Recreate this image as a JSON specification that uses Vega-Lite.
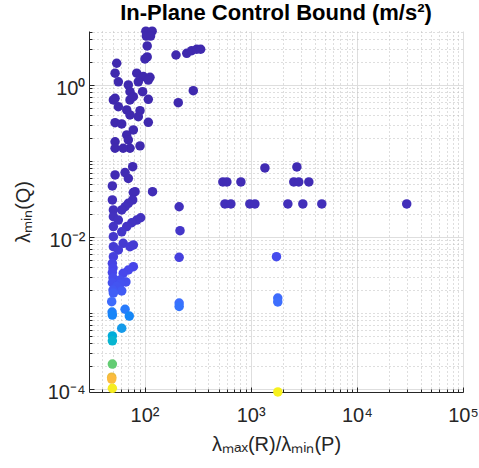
{
  "$schema": "https://vega.github.io/schema/vega-lite/v6.json",
  "width": 374,
  "height": 361,
  "autosize": "none",
  "padding": {"left": 89, "top": 31, "right": 16, "bottom": 76},
  "title": {"text": "In-Plane Control Bound (m/s²)", "fontSize": 22, "fontWeight": "bold", "font": "Liberation Sans", "color": "#000000", "anchor": "middle", "offset": 1},
  "data": {"values": [
    {"ratio": 103, "lamQ": 5.1, "bound": 0.01},
    {"ratio": 118, "lamQ": 5.1, "bound": 0.01},
    {"ratio": 104, "lamQ": 4.4, "bound": 0.01},
    {"ratio": 114, "lamQ": 4.4, "bound": 0.01},
    {"ratio": 106, "lamQ": 3.26, "bound": 0.01},
    {"ratio": 106, "lamQ": 2.34, "bound": 0.01},
    {"ratio": 101, "lamQ": 2.2, "bound": 0.01},
    {"ratio": 198, "lamQ": 2.48, "bound": 0.01},
    {"ratio": 250, "lamQ": 2.61, "bound": 0.01},
    {"ratio": 278, "lamQ": 2.83, "bound": 0.01},
    {"ratio": 310, "lamQ": 2.95, "bound": 0.01},
    {"ratio": 338, "lamQ": 2.95, "bound": 0.01},
    {"ratio": 288, "lamQ": 0.84, "bound": 0.01},
    {"ratio": 54.7, "lamQ": 1.93, "bound": 0.01},
    {"ratio": 52.8, "lamQ": 1.43, "bound": 0.01},
    {"ratio": 84.5, "lamQ": 1.43, "bound": 0.01},
    {"ratio": 56.7, "lamQ": 1.1, "bound": 0.01},
    {"ratio": 97.5, "lamQ": 1.29, "bound": 0.01},
    {"ratio": 112.6, "lamQ": 1.26, "bound": 0.01},
    {"ratio": 108.6, "lamQ": 1.16, "bound": 0.01},
    {"ratio": 87.4, "lamQ": 1.1, "bound": 0.01},
    {"ratio": 70.4, "lamQ": 1.0, "bound": 0.01},
    {"ratio": 73, "lamQ": 0.817, "bound": 0.01},
    {"ratio": 96, "lamQ": 0.817, "bound": 0.01},
    {"ratio": 208, "lamQ": 0.585, "bound": 0.01},
    {"ratio": 52.8, "lamQ": 0.668, "bound": 0.01},
    {"ratio": 50.9, "lamQ": 0.635, "bound": 0.01},
    {"ratio": 73, "lamQ": 0.635, "bound": 0.01},
    {"ratio": 78.5, "lamQ": 0.702, "bound": 0.01},
    {"ratio": 108.6, "lamQ": 0.648, "bound": 0.01},
    {"ratio": 56.7, "lamQ": 0.518, "bound": 0.01},
    {"ratio": 68, "lamQ": 0.469, "bound": 0.01},
    {"ratio": 90.7, "lamQ": 0.459, "bound": 0.01},
    {"ratio": 73, "lamQ": 0.403, "bound": 0.01},
    {"ratio": 87.4, "lamQ": 0.383, "bound": 0.01},
    {"ratio": 52.8, "lamQ": 0.319, "bound": 0.01},
    {"ratio": 61, "lamQ": 0.307, "bound": 0.01},
    {"ratio": 108.6, "lamQ": 0.323, "bound": 0.01},
    {"ratio": 78.5, "lamQ": 0.256, "bound": 0.01},
    {"ratio": 68, "lamQ": 0.22, "bound": 0.01},
    {"ratio": 70.4, "lamQ": 0.189, "bound": 0.01},
    {"ratio": 52.8, "lamQ": 0.179, "bound": 0.01},
    {"ratio": 52.8, "lamQ": 0.147, "bound": 0.01},
    {"ratio": 90.7, "lamQ": 0.158, "bound": 0.01},
    {"ratio": 73, "lamQ": 0.147, "bound": 0.01},
    {"ratio": 63, "lamQ": 0.147, "bound": 0.01},
    {"ratio": 77.4, "lamQ": 0.0841, "bound": 0.017},
    {"ratio": 52.8, "lamQ": 0.0655, "bound": 0.017},
    {"ratio": 65.6, "lamQ": 0.0703, "bound": 0.017},
    {"ratio": 70.4, "lamQ": 0.059, "bound": 0.017},
    {"ratio": 1362, "lamQ": 0.081, "bound": 0.017},
    {"ratio": 2724, "lamQ": 0.0834, "bound": 0.017},
    {"ratio": 547, "lamQ": 0.053, "bound": 0.02},
    {"ratio": 597, "lamQ": 0.053, "bound": 0.02},
    {"ratio": 809, "lamQ": 0.053, "bound": 0.02},
    {"ratio": 2547, "lamQ": 0.053, "bound": 0.02},
    {"ratio": 2838, "lamQ": 0.053, "bound": 0.02},
    {"ratio": 3530, "lamQ": 0.053, "bound": 0.02},
    {"ratio": 49.8, "lamQ": 0.0469, "bound": 0.022},
    {"ratio": 78.5, "lamQ": 0.0385, "bound": 0.022},
    {"ratio": 81.5, "lamQ": 0.0394, "bound": 0.022},
    {"ratio": 119, "lamQ": 0.0394, "bound": 0.022},
    {"ratio": 49.8, "lamQ": 0.0307, "bound": 0.026},
    {"ratio": 77.4, "lamQ": 0.0307, "bound": 0.026},
    {"ratio": 70.4, "lamQ": 0.0277, "bound": 0.028},
    {"ratio": 572, "lamQ": 0.0272, "bound": 0.028},
    {"ratio": 651, "lamQ": 0.0272, "bound": 0.028},
    {"ratio": 982, "lamQ": 0.0272, "bound": 0.028},
    {"ratio": 1096, "lamQ": 0.0272, "bound": 0.028},
    {"ratio": 2240, "lamQ": 0.0272, "bound": 0.028},
    {"ratio": 3100, "lamQ": 0.0272, "bound": 0.028},
    {"ratio": 4677, "lamQ": 0.0272, "bound": 0.028},
    {"ratio": 29500, "lamQ": 0.0272, "bound": 0.028},
    {"ratio": 65.6, "lamQ": 0.025, "bound": 0.03},
    {"ratio": 212, "lamQ": 0.025, "bound": 0.03},
    {"ratio": 61, "lamQ": 0.0227, "bound": 0.03},
    {"ratio": 50.9, "lamQ": 0.0227, "bound": 0.03},
    {"ratio": 50.9, "lamQ": 0.0185, "bound": 0.035},
    {"ratio": 92, "lamQ": 0.0179, "bound": 0.036},
    {"ratio": 56.7, "lamQ": 0.0167, "bound": 0.038},
    {"ratio": 84.5, "lamQ": 0.0167, "bound": 0.038},
    {"ratio": 75.8, "lamQ": 0.0154, "bound": 0.04},
    {"ratio": 68, "lamQ": 0.0137, "bound": 0.045},
    {"ratio": 50.9, "lamQ": 0.0137, "bound": 0.045},
    {"ratio": 61, "lamQ": 0.0117, "bound": 0.05},
    {"ratio": 216, "lamQ": 0.0121, "bound": 0.05},
    {"ratio": 50.9, "lamQ": 0.0101, "bound": 0.055},
    {"ratio": 63, "lamQ": 0.00826, "bound": 0.062},
    {"ratio": 78.5, "lamQ": 0.00785, "bound": 0.064},
    {"ratio": 73, "lamQ": 0.00746, "bound": 0.066},
    {"ratio": 50.9, "lamQ": 0.00746, "bound": 0.066},
    {"ratio": 56.7, "lamQ": 0.00675, "bound": 0.07},
    {"ratio": 50.9, "lamQ": 0.00551, "bound": 0.08},
    {"ratio": 212, "lamQ": 0.0054, "bound": 0.08},
    {"ratio": 1750, "lamQ": 0.0055, "bound": 0.11},
    {"ratio": 49.8, "lamQ": 0.0045, "bound": 0.09},
    {"ratio": 78.5, "lamQ": 0.00407, "bound": 0.095},
    {"ratio": 50.5, "lamQ": 0.0039, "bound": 0.095},
    {"ratio": 70.4, "lamQ": 0.00368, "bound": 0.1},
    {"ratio": 49.8, "lamQ": 0.0034, "bound": 0.1},
    {"ratio": 63, "lamQ": 0.00333, "bound": 0.1},
    {"ratio": 50.5, "lamQ": 0.0029, "bound": 0.11},
    {"ratio": 58.9, "lamQ": 0.00272, "bound": 0.115},
    {"ratio": 49.8, "lamQ": 0.0025, "bound": 0.12},
    {"ratio": 66.8, "lamQ": 0.00256, "bound": 0.12},
    {"ratio": 58.9, "lamQ": 0.00241, "bound": 0.125},
    {"ratio": 54.7, "lamQ": 0.00223, "bound": 0.13},
    {"ratio": 50.5, "lamQ": 0.002, "bound": 0.14},
    {"ratio": 61, "lamQ": 0.00195, "bound": 0.145},
    {"ratio": 50.9, "lamQ": 0.00183, "bound": 0.155},
    {"ratio": 1800, "lamQ": 0.00157, "bound": 0.19},
    {"ratio": 49.1, "lamQ": 0.00141, "bound": 0.19},
    {"ratio": 1800, "lamQ": 0.0014, "bound": 0.2},
    {"ratio": 212, "lamQ": 0.00135, "bound": 0.2},
    {"ratio": 212, "lamQ": 0.00122, "bound": 0.21},
    {"ratio": 65.6, "lamQ": 0.00112, "bound": 0.225},
    {"ratio": 49.5, "lamQ": 0.00103, "bound": 0.235},
    {"ratio": 49.8, "lamQ": 0.00094, "bound": 0.25},
    {"ratio": 71.9, "lamQ": 0.000912, "bound": 0.255},
    {"ratio": 61, "lamQ": 0.00063, "bound": 0.31},
    {"ratio": 49.8, "lamQ": 0.0005, "bound": 0.37},
    {"ratio": 49.8, "lamQ": 0.00043, "bound": 0.4},
    {"ratio": 49.8, "lamQ": 0.000213, "bound": 0.58},
    {"ratio": 49.1, "lamQ": 0.000143, "bound": 0.77},
    {"ratio": 49.1, "lamQ": 0.000135, "bound": 0.8},
    {"ratio": 49.8, "lamQ": 0.000102, "bound": 0.94},
    {"ratio": 1803, "lamQ": 0.0000915, "bound": 0.96}
  ]},
  "layer": [
    {
      "mark": {"type": "point", "opacity": 0},
      "encoding": {
        "x": {"field": "ratio", "type": "quantitative", "scale": {"type": "log", "domain": [30, 100000], "nice": false},
          "axis": {"orient": "bottom", "values": [40,50,60,70,80,90,200,300,400,500,600,700,800,900,2000,3000,4000,5000,6000,7000,8000,9000,20000,30000,40000,50000,60000,70000,80000,90000],
            "labels": false, "domain": false, "ticks": true, "tickSize": -3, "tickColor": "#262626", "grid": true, "gridColor": "#bdbdbd", "gridDash": [1, 3], "title": null}},
        "y": {"field": "lamQ", "type": "quantitative", "scale": {"type": "log", "domain": [0.0000913, 5.13], "nice": false},
          "axis": {"orient": "left", "values": [0.0002,0.0003,0.0004,0.0005,0.0006,0.0007,0.0008,0.0009,0.001,0.002,0.003,0.004,0.005,0.006,0.007,0.008,0.009,0.02,0.03,0.04,0.05,0.06,0.07,0.08,0.09,0.1,0.2,0.3,0.4,0.5,0.6,0.7,0.8,0.9,2,3,4,5],
            "labels": false, "domain": false, "ticks": true, "tickSize": -3, "tickColor": "#262626", "grid": true, "gridColor": "#bdbdbd", "gridDash": [1, 3], "title": null}}
      }
    },
    {
      "mark": {"type": "circle", "size": 90, "opacity": 1},
      "encoding": {
        "x": {"field": "ratio", "type": "quantitative", "scale": {"type": "log", "domain": [30, 100000], "nice": false},
          "axis": {"orient": "bottom", "values": [100, 1000, 10000, 100000],
            "labelExpr": "datum.value < 500 ? '10²' : datum.value < 5000 ? '10³' : datum.value < 50000 ? '10⁴' : '10⁵'",
            "labelFlush": false, "labelFontSize": 20, "labelFont": "Liberation Sans", "labelColor": "#262626", "labelPadding": 18,
            "domain": true, "domainColor": "#262626", "domainWidth": 1, "ticks": true, "tickSize": -5, "tickColor": "#262626",
            "grid": true, "gridColor": "#dedede", "gridWidth": 1,
            "title": "λₘₐₓ(R)/λₘᵢₙ(P)", "titleFontSize": 20, "titleFont": "Liberation Sans", "titleFontWeight": "normal", "titleColor": "#262626", "titlePadding": 9}},
        "y": {"field": "lamQ", "type": "quantitative", "scale": {"type": "log", "domain": [0.0000913, 5.13], "nice": false},
          "axis": {"orient": "left", "values": [0.0001, 0.01, 1],
            "labelExpr": "datum.value > 0.5 ? '10⁰' : datum.value > 0.005 ? '10⁻²' : '10⁻⁴'",
            "labelFlush": false, "labelFontSize": 20, "labelFont": "Liberation Sans", "labelColor": "#262626", "labelPadding": 9, "labelOffset": 4,
            "domain": true, "domainColor": "#262626", "domainWidth": 1, "ticks": true, "tickSize": -5, "tickColor": "#262626",
            "grid": true, "gridColor": "#dedede", "gridWidth": 1,
            "title": "λₘᵢₙ(Q)", "titleFontSize": 20, "titleFont": "Liberation Sans", "titleFontWeight": "normal", "titleColor": "#262626", "titlePadding": 14}},
        "color": {"field": "bound", "type": "quantitative", "legend": null,
          "scale": {"domain": [0, 0.1, 0.2, 0.3, 0.4, 0.5, 0.6, 0.7, 0.8, 0.9, 1],
            "range": ["#3e26a8", "#4747eb", "#3e6ffe", "#2797eb", "#08b5d0", "#31c69f", "#71cc67", "#c0bc44", "#fcbb3e", "#f4e327", "#f9fb15"]}}
      }
    }
  ],
  "resolve": {"axis": {"x": "independent", "y": "independent"}},
  "config": {"view": {"stroke": null}, "background": "#ffffff", "font": "Liberation Sans"}
}
